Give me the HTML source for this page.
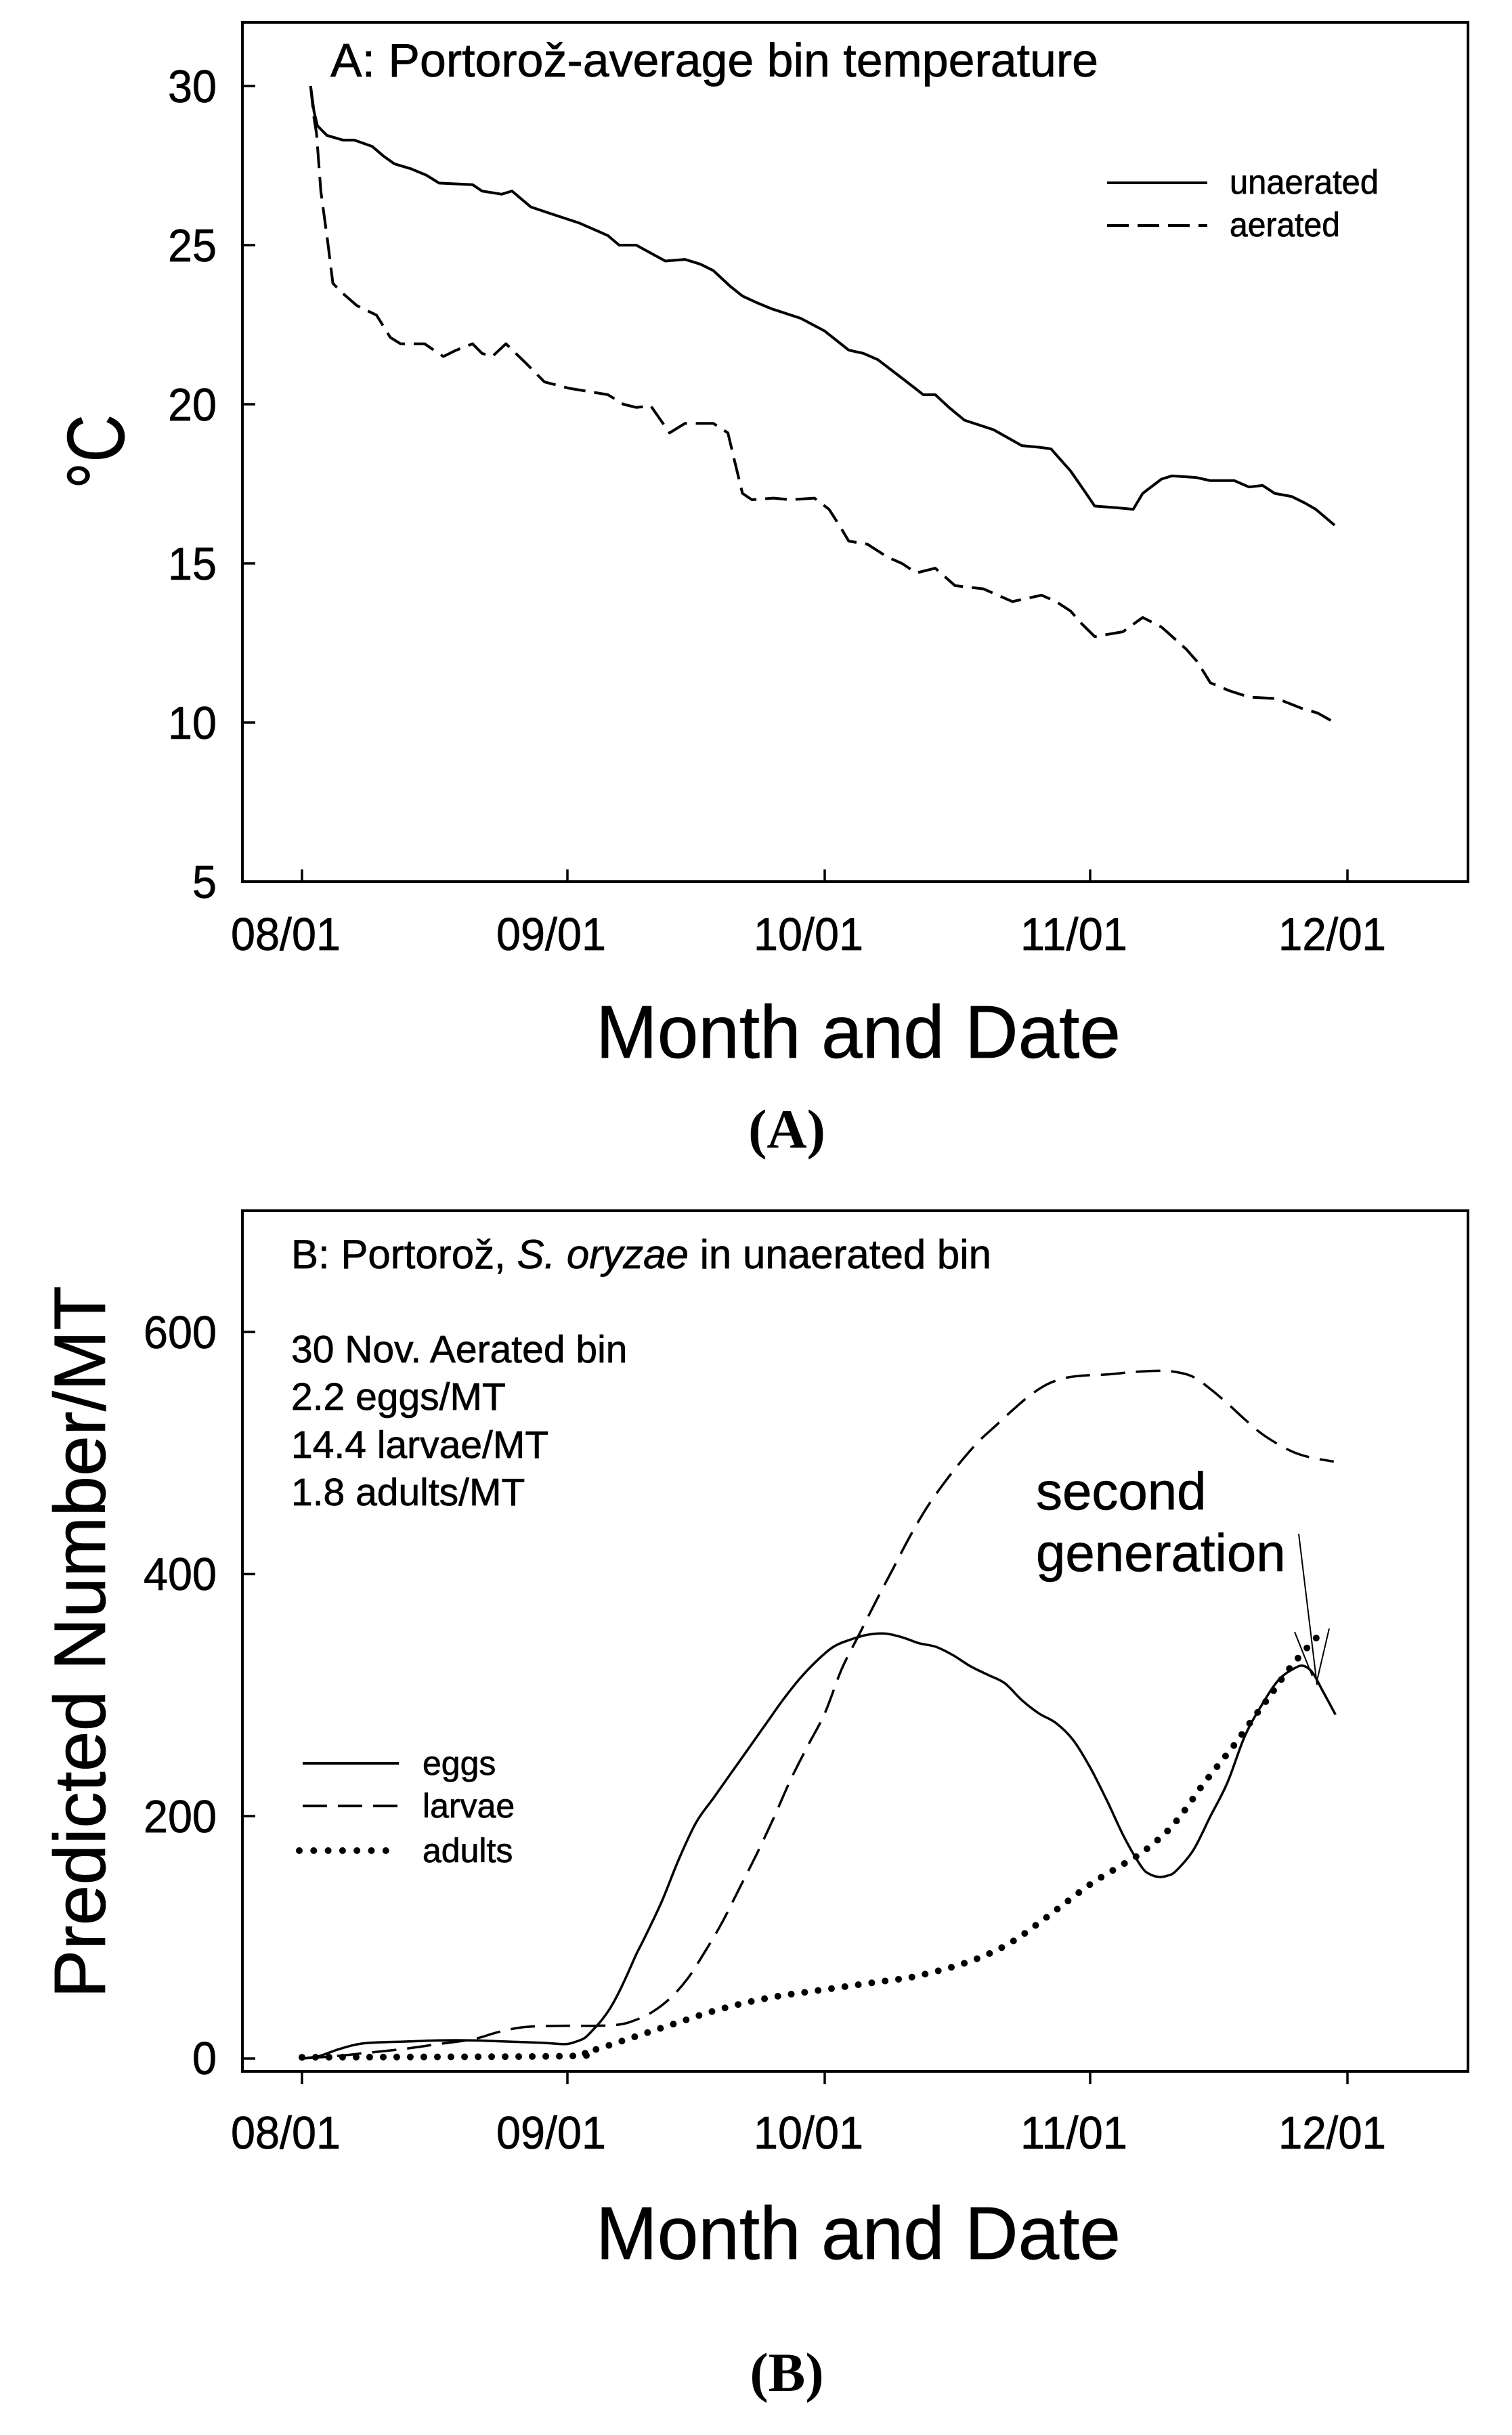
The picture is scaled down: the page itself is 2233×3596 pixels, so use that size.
<!DOCTYPE html>
<html><head><meta charset="utf-8">
<style>
html,body{margin:0;padding:0;background:#fff;}
svg{display:block;}
text{font-family:"Liberation Sans",Arial,sans-serif;fill:#000;stroke:#000;stroke-width:0.7px;}
.serif{font-family:"Liberation Serif","Times New Roman",serif;font-weight:bold;stroke-width:0;}
</style></head>
<body>
<svg id="s" xmlns="http://www.w3.org/2000/svg" width="2233" height="3596" viewBox="0 0 2233 3596">
<rect width="2233" height="3596" fill="#fff"/>
<!-- Panel A -->
<rect x="358" y="33" width="1810" height="1269" fill="none" stroke="#000" stroke-width="4"/>
<g stroke="#000" stroke-width="3.5">
<line x1="358" y1="127" x2="377" y2="127"/>
<line x1="358" y1="362" x2="377" y2="362"/>
<line x1="358" y1="597" x2="377" y2="597"/>
<line x1="358" y1="832" x2="377" y2="832"/>
<line x1="358" y1="1067" x2="377" y2="1067"/>
<line x1="446" y1="1302" x2="446" y2="1284"/>
<line x1="838" y1="1302" x2="838" y2="1284"/>
<line x1="1218" y1="1302" x2="1218" y2="1284"/>
<line x1="1610" y1="1302" x2="1610" y2="1284"/>
<line x1="1990" y1="1302" x2="1990" y2="1284"/>
</g>
<g font-size="68" text-anchor="end">
<text x="320" y="151" textLength="72" lengthAdjust="spacingAndGlyphs">30</text>
<text x="320" y="386" textLength="72" lengthAdjust="spacingAndGlyphs">25</text>
<text x="320" y="621" textLength="72" lengthAdjust="spacingAndGlyphs">20</text>
<text x="320" y="856" textLength="72" lengthAdjust="spacingAndGlyphs">15</text>
<text x="320" y="1091" textLength="72" lengthAdjust="spacingAndGlyphs">10</text>
<text x="320" y="1326" textLength="36" lengthAdjust="spacingAndGlyphs">5</text>
</g>
<g font-size="68">
<text x="341" y="1403" textLength="162" lengthAdjust="spacingAndGlyphs">08/01</text>
<text x="733" y="1403" textLength="162" lengthAdjust="spacingAndGlyphs">09/01</text>
<text x="1113" y="1403" textLength="162" lengthAdjust="spacingAndGlyphs">10/01</text>
<text x="1507" y="1403" textLength="158" lengthAdjust="spacingAndGlyphs">11/01</text>
<text x="1888" y="1403" textLength="159" lengthAdjust="spacingAndGlyphs">12/01</text>
</g>
<text x="488" y="113" font-size="70" textLength="1134" lengthAdjust="spacingAndGlyphs">A: Portorož-average bin temperature</text>
<line x1="1635" y1="270" x2="1783" y2="270" stroke="#000" stroke-width="4"/>
<line x1="1635" y1="333" x2="1783" y2="333" stroke="#000" stroke-width="4" stroke-dasharray="32 13"/>
<text x="1816" y="286" font-size="50" textLength="220" lengthAdjust="spacingAndGlyphs">unaerated</text>
<text x="1816" y="349" font-size="50" textLength="163" lengthAdjust="spacingAndGlyphs">aerated</text>
<text transform="translate(183,667) rotate(-90)" text-anchor="middle" font-size="120" textLength="110" lengthAdjust="spacingAndGlyphs">°C</text>
<text x="880" y="1562" font-size="110" textLength="775" lengthAdjust="spacingAndGlyphs">Month and Date</text>
<text class="serif" x="1162" y="1695" font-size="82" text-anchor="middle">(A)</text>
<path id="unA" fill="none" stroke="#000" stroke-width="4" stroke-linejoin="round"/>
<path id="aeA" fill="none" stroke="#000" stroke-width="4" stroke-linejoin="round" stroke-dasharray="32 13"/>

<!-- Panel B -->
<rect x="358" y="1788" width="1810" height="1271" fill="none" stroke="#000" stroke-width="4"/>
<g stroke="#000" stroke-width="3.5">
<line x1="358" y1="1967" x2="377" y2="1967"/>
<line x1="358" y1="2324.5" x2="377" y2="2324.5"/>
<line x1="358" y1="2682" x2="377" y2="2682"/>
<line x1="358" y1="3040" x2="377" y2="3040"/>
<line x1="446" y1="3059" x2="446" y2="3078"/>
<line x1="838" y1="3059" x2="838" y2="3078"/>
<line x1="1218" y1="3059" x2="1218" y2="3078"/>
<line x1="1610" y1="3059" x2="1610" y2="3078"/>
<line x1="1990" y1="3059" x2="1990" y2="3078"/>
</g>
<g font-size="68" text-anchor="end">
<text x="320" y="1991" textLength="108" lengthAdjust="spacingAndGlyphs">600</text>
<text x="320" y="2348" textLength="108" lengthAdjust="spacingAndGlyphs">400</text>
<text x="320" y="2706" textLength="108" lengthAdjust="spacingAndGlyphs">200</text>
<text x="320" y="3063" textLength="36" lengthAdjust="spacingAndGlyphs">0</text>
</g>
<g font-size="68">
<text x="341" y="3173" textLength="162" lengthAdjust="spacingAndGlyphs">08/01</text>
<text x="733" y="3173" textLength="162" lengthAdjust="spacingAndGlyphs">09/01</text>
<text x="1113" y="3173" textLength="162" lengthAdjust="spacingAndGlyphs">10/01</text>
<text x="1507" y="3173" textLength="158" lengthAdjust="spacingAndGlyphs">11/01</text>
<text x="1888" y="3173" textLength="159" lengthAdjust="spacingAndGlyphs">12/01</text>
</g>
<text x="430" y="1873" font-size="60">B: Portorož, <tspan font-style="italic">S. oryzae</tspan> in unaerated bin</text>
<g font-size="57">
<text x="430" y="2012">30 Nov. Aerated bin</text>
<text x="430" y="2082">2.2 eggs/MT</text>
<text x="430" y="2153">14.4 larvae/MT</text>
<text x="430" y="2223">1.8 adults/MT</text>
</g>
<text x="1530" y="2229" font-size="78">second</text>
<text x="1530" y="2320" font-size="78">generation</text>
<line x1="447" y1="2604" x2="589" y2="2604" stroke="#000" stroke-width="4"/>
<line x1="447" y1="2667" x2="589" y2="2667" stroke="#000" stroke-width="4" stroke-dasharray="36 16"/>
<line x1="442" y1="2733" x2="572" y2="2733" stroke="#000" stroke-width="10" stroke-linecap="round" stroke-dasharray="0 21.3"/>
<g font-size="50">
<text x="624" y="2621">eggs</text>
<text x="624" y="2684">larvae</text>
<text x="624" y="2750">adults</text>
</g>
<text transform="translate(155,2425) rotate(-90)" text-anchor="middle" font-size="108" textLength="1052" lengthAdjust="spacingAndGlyphs">Predicted Number/MT</text>
<text x="880" y="3336" font-size="110" textLength="775" lengthAdjust="spacingAndGlyphs">Month and Date</text>
<text class="serif" x="1162" y="3531" font-size="82" text-anchor="middle">(B)</text>
<path id="eggs" fill="none" stroke="#000" stroke-width="3.5" stroke-linejoin="round"/>
<path id="larv" fill="none" stroke="#000" stroke-width="3.5" stroke-dasharray="36 16"/>
<path id="adul" fill="none" stroke="#000" stroke-width="10" stroke-linecap="round" stroke-dasharray="0 20"/>
<g stroke="#000" stroke-width="2">
<line x1="1918" y1="2265" x2="1945" y2="2488"/>
<line x1="1912" y1="2410" x2="1938" y2="2475"/>
<line x1="1963" y1="2405" x2="1945" y2="2482"/>
</g>
</svg>
<script>
(function(){
var X=function(d){return 446+12.656*d;};
var YA=function(t){return 127+(30-t)*47;};
var YB=function(v){return 3040-v*1.788;};
function poly(p,fy){return 'M'+p.map(function(q){return X(q[0]).toFixed(1)+','+fy(q[1]).toFixed(1);}).join('L');}
function smooth(p,fy){
 var P=p.map(function(q){return [X(q[0]),fy(q[1])];});
 var d='M'+P[0][0].toFixed(1)+','+P[0][1].toFixed(1);
 for(var i=0;i<P.length-1;i++){
  var p0=P[i>0?i-1:i],p1=P[i],p2=P[i+1],p3=P[i+2<P.length?i+2:i+1];
  var c1=[p1[0]+(p2[0]-p0[0])/6,p1[1]+(p2[1]-p0[1])/6];
  var c2=[p2[0]-(p3[0]-p1[0])/6,p2[1]-(p3[1]-p1[1])/6];
  d+='C'+c1[0].toFixed(1)+','+c1[1].toFixed(1)+' '+c2[0].toFixed(1)+','+c2[1].toFixed(1)+' '+p2[0].toFixed(1)+','+p2[1].toFixed(1);
 }
 return d;
}
var un=[[1.0,30],[1.4,29.2],[1.8,28.75],[2.9,28.45],[4.8,28.3],[6.1,28.3],[8.2,28.1],[9.5,27.8],[10.8,27.55],[12.7,27.4],[14.5,27.2],[16,26.95],[19.9,26.9],[21,26.7],[23.3,26.6],[24.5,26.7],[26.7,26.2],[28.9,26.0],[32.3,25.7],[35.7,25.3],[37,25.0],[39,25.0],[42.4,24.5],[44.7,24.55],[46.5,24.4],[48,24.2],[50,23.7],[51.4,23.4],[53,23.2],[54.8,23.0],[58.2,22.7],[61,22.3],[63.8,21.7],[65.5,21.6],[67.2,21.4],[70.6,20.7],[72.5,20.3],[73.9,20.3],[75.5,19.9],[77.3,19.5],[80.7,19.2],[84,18.7],[86,18.65],[87.4,18.6],[89.7,17.9],[91.5,17.2],[92.5,16.8],[95,16.75],[97,16.7],[98.1,17.2],[100.3,17.65],[101.5,17.75],[104.3,17.7],[106,17.6],[108.8,17.6],[110.5,17.4],[112.1,17.45],[113.5,17.2],[115.5,17.1],[117,16.9],[118.3,16.7],[120.5,16.2]];
var ae=[[1,30],[1.4,29],[1.7,28.5],[2.2,26.7],[3,25.1],[3.6,23.8],[4.7,23.5],[6.4,23.1],[8.7,22.8],[10.3,22.1],[11.5,21.9],[14.3,21.9],[16.5,21.5],[18,21.7],[19.9,21.9],[21,21.6],[22.2,21.5],[23.8,21.9],[26.1,21.3],[28.3,20.7],[31.2,20.5],[35.7,20.3],[37.5,20.0],[39,19.9],[40.7,19.95],[42.9,19.1],[44.7,19.4],[48,19.4],[49.7,19.1],[50.5,18.2],[51.4,17.2],[52.5,17.0],[55,17.05],[57,17.0],[59.8,17.05],[61.5,16.7],[62.7,16.2],[63.8,15.7],[66,15.6],[68.3,15.2],[70,15.0],[71.7,14.7],[73.9,14.85],[76.2,14.3],[79.5,14.2],[82.9,13.8],[86.3,14.0],[88,13.8],[89.7,13.5],[91,13.1],[92.5,12.7],[95.8,12.85],[98.1,13.3],[100.3,13.0],[103.2,12.3],[104.5,11.9],[106,11.25],[108.2,11.0],[110.5,10.8],[113.8,10.75],[116.6,10.45],[118.5,10.3],[120.5,10.0]];
var eggs=[[0,0],[2,2],[4,7],[6,11],[8,13],[12,14],[16,15],[20,15],[24,14],[28,13],[30,12],[31,12],[32,14],[33,17],[34,24],[35,32],[36,42],[37,55],[38,70],[39,86],[40,100],[42,130],[44,165],[46,195],[48,215],[50,235],[52,255],[54,275],[56,295],[58,313],[60,328],[62,340],[64,346],[66,350],[68,351],[70,348],[72,343],[74,340],[76,333],[78,324],[80,317],[82,310],[84,296],[86,285],[88,277],[90,263],[92,240],[94,212],[96,182],[98,158],[99,152],[100,150],[101,151],[102,155],[104,172],[106,200],[108,228],[110,266],[112,292],[114,313],[116,323],[117,324],[118,318],[119,305],[120,292],[120.6,284]];
var larv=[[0,0],[4,2],[8,5],[12,8],[16,12],[20,16],[23,22],[26,26],[30,27],[34,27],[37,28],[39,32],[41,39],[43,50],[45,66],[47,88],[49,112],[51,140],[53,168],[55,198],[57,230],[59,258],[61,285],[63,322],[65,350],[67,378],[69,405],[71,432],[73,456],[75,476],[77,494],[79,510],[81,523],[83,536],[85,548],[87,557],[89,562],[91,564],[94,565],[97,567],[100,568],[102,567],[104,563],[106,553],[108,541],[110,528],[112,516],[114,507],[116,500],[118,496],[120.4,493]];
var adul=[[0,1],[31,2],[33,5],[35,9],[38,16],[41,23],[44,30],[47,37],[50,43],[53,48],[56,52],[59,55],[62,58],[65,61],[68,64],[71,67],[74,72],[77,78],[80,86],[83,97],[86,112],[89,128],[92,144],[95,157],[98,170],[101,188],[103,205],[105,225],[107,243],[109,261],[111,281],[113,300],[115,320],[117,337],[119.4,355]];
document.getElementById('unA').setAttribute('d',poly(un,YA));
document.getElementById('aeA').setAttribute('d',poly(ae,YA));
document.getElementById('eggs').setAttribute('d',smooth(eggs,YB));
document.getElementById('larv').setAttribute('d',smooth(larv,YB));
document.getElementById('adul').setAttribute('d',smooth(adul,YB));
})();
</script>
</body></html>
